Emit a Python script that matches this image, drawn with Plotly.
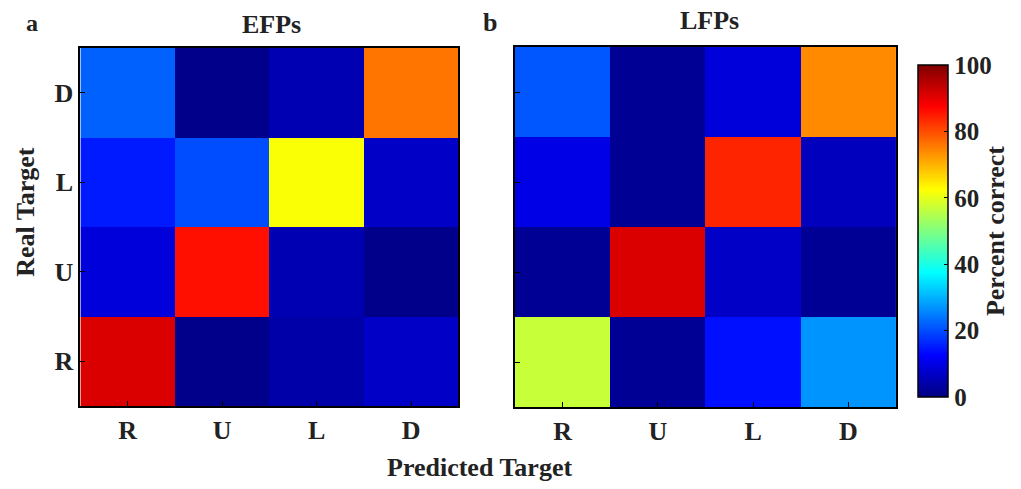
import plotly.graph_objects as go

targets = ["R", "U", "L", "D"]

# rows: real target (bottom to top R, U, L, D); columns: predicted target R, U, L, D
efp_R = [91, 1, 4, 7]
efp_U = [9, 86, 5, 1]
efp_L = [15, 20, 62, 7]
efp_D = [22, 1, 5, 76]

lfp_R = [57, 2, 14, 27]
lfp_U = [2, 91, 7, 2]
lfp_L = [10, 2, 84, 6]
lfp_D = [21, 2, 9, 74]

cb_ticks = [0, 20, 40, 60, 80, 100]

jet = [
    [0.0, "rgb(0,0,128)"],
    [0.125, "rgb(0,0,255)"],
    [0.375, "rgb(0,255,255)"],
    [0.625, "rgb(255,255,0)"],
    [0.875, "rgb(255,0,0)"],
    [1.0, "rgb(128,0,0)"],
]

FONT = "Liberation Serif"
TXT = "#222"
W, H = 1021, 489

fig = go.Figure()

fig.add_trace(go.Heatmap(
    x=targets, y=targets, z=[efp_R, efp_U, efp_L, efp_D],
    zmin=0, zmax=100, colorscale=jet, showscale=False,
    xaxis="x", yaxis="y",
))
fig.add_trace(go.Heatmap(
    x=targets, y=targets, z=[lfp_R, lfp_U, lfp_L, lfp_D],
    zmin=0, zmax=100, colorscale=jet, showscale=True,
    xaxis="x2", yaxis="y2",
    colorbar=dict(
        x=915 / W, xanchor="left", xref="paper",
        y=1 - 407 / H, yanchor="bottom",
        len=352 / H, lenmode="fraction",
        thickness=30, thicknessmode="pixels",
        outlinecolor="black", outlinewidth=1.5,
        ticks="inside", ticklen=4, tickcolor="black",
        tickvals=cb_ticks, ticktext=[f"<b>{t}</b>" for t in cb_ticks],
        tickfont=dict(family=FONT, size=25, color=TXT),
        title=dict(text="<b>Percent correct</b>", side="right",
                   font=dict(family=FONT, size=26, color=TXT)),
    ),
))

axis_common = dict(
    showline=True, mirror=True, linecolor="black", linewidth=2,
    ticks="inside", ticklen=5, tickcolor="black",
    tickfont=dict(family=FONT, size=26, color=TXT),
    showgrid=False, zeroline=False, automargin=False,
    categoryorder="array", categoryarray=targets,
)

fig.update_layout(
    width=W, height=H,
    margin=dict(l=0, r=0, t=0, b=0),
    template="none",
    paper_bgcolor="white", plot_bgcolor="white",
    xaxis=dict(domain=[81 / W, 462 / W], anchor="y", **axis_common),
    yaxis=dict(domain=[1 - 406 / H, 1 - 48 / H], anchor="x", **axis_common),
    xaxis2=dict(domain=[519 / W, 903 / W], anchor="y2", **axis_common),
    yaxis2=dict(domain=[1 - 407 / H, 1 - 47 / H], anchor="x2",
                showticklabels=False, **axis_common),
    showlegend=False,
)
fig.update_xaxes(tickprefix="<b>", ticksuffix="</b>")
fig.update_yaxes(tickprefix="<b>", ticksuffix="</b>")

def ann(text, x, y, size=26, angle=0):
    fig.add_annotation(text=f"<b>{text}</b>", x=x / W, y=1 - y / H,
                       xref="paper", yref="paper", showarrow=False,
                       textangle=angle, xanchor="center", yanchor="middle",
                       font=dict(family=FONT, size=size, color=TXT))

ann("a", 32, 23, size=24)
ann("b", 494, 23, size=26)
ann("EFPs", 274, 24)
ann("LFPs", 715, 21)
ann("Real Target", 25, 212, angle=-90)
ann("Predicted Target", 483, 467)

fig.write_html("out.html", config={"displayModeBar": False},
               post_script="document.body.style.margin='0';")
